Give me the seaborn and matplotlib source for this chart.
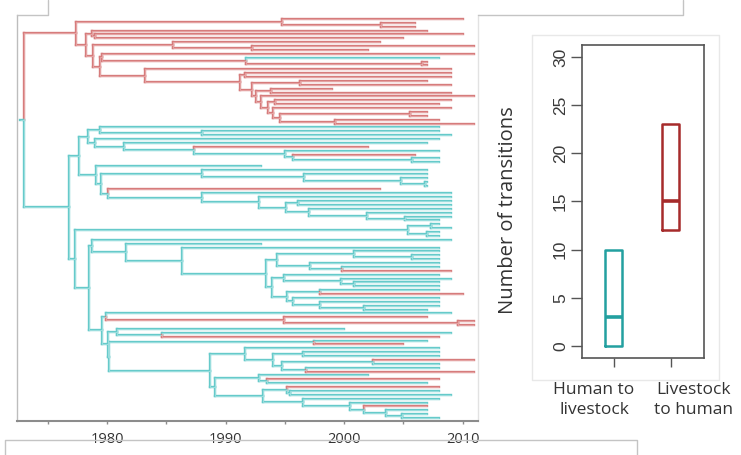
import numpy as np
import pandas as pd
import matplotlib
matplotlib.use("Agg")
import matplotlib.pyplot as plt
from matplotlib.collections import LineCollection
from matplotlib.lines import Line2D
import seaborn as sns

# ------------------------------------------------------------------ data
# Dated phylogeny. Every node label = state ('r' = livestock, 't' = human)
# followed by the node / tip date (year).
red_top = "(r2010,(r2006,r2006)r2003.1)r1994.8"
red_a = "(r2007,(r2010,r2005)r1979.0)r1978.7"
red_b = "(r2003,(r2011,r2002)r1992.2)r1985.6"
red_c = "(r2011,(t2008,(r2007,r2007)r2006.6)r1991.7)r1979.6"
red_lower = ("(r2009,((r2009,r2009)r1991.6,((r2007,r2009)r1996.3,((r1999,r2009)r1993.8,"
             "(r2011,((r2009,r2008)r1994.2,(r2009,((r2007,r2007)r2005.6,(r2008,r2011)r1999.2)"
             "r1994.6)r1994.0)r1993.6)r1993.0)r1992.6)r1992.2)r1991.2)r1983.2")
red_clade = ("(" + red_top + ",(" + red_a + ",(" + red_b + ",(" + red_c + "," + red_lower
             + ")r1979.4)r1978.8)r1978.2)r1977.4")

teal_1a = ("((t2008,(t2008,t2009)t1988.0)t1979.4,(t2008,(t2007,(r2002,(t2008,(r2006,"
           "(t2008,t2008)t2005.7)t1995.7)t1995.0)t1987.3)t1981.4)t1979.0)t1978.4")
teal_1b = ("(t1993,((t2007,(t2007,(t2007,(t2007,t2007)t2006.8)t2004.8)t1996.6)t1988.0,"
           "(r2003,(t2009,(t2009,((t2009,t2009)t1996.1,(t2009,(t2009,(t2009,t2008)t2005.1)"
           "t2001.9)t1997.0)t1995.1)t1992.8)t1988.0)t1980.1)t1979.5)t1979.1")
teal_2a = "((t2008,t2009)t2007.3,(t2008,t2008)t2007.0)t2005.4"
teal_n276 = "((t2008,(t2008,t2008)t2005.7)t2000.8,(t2008,(t2008,r2009)t1999.8)t1997.1)t1994.3"
teal_n272 = ("((t2008,(t2009,(t2008,t2008)t2000.8)t1999.7)t1994.9,((t2008,r2010)t1998.0,"
             "(t2008,(t2008,(t2008,t2007)t2001.7)t1998.0)t1995.7)t1995.2)t1993.9")
teal_n92 = "(t2009,(t1993,(t2008,(" + teal_n276 + "," + teal_n272 + ")t1993.4)t1986.3)t1981.6)t1978.7"
teal_n106 = "(t2009,(r2007,(r2011,r2011)r2009.6)r1994.9)t1979.9"
teal_n117 = "(t2000,(t2009,r2008)t1984.6)t1980.8"
teal_n315 = "(t2007,r2005)t1997.5"
teal_n244 = "(t2008,((t2008,t2008)t1996.5,((r2011,t2008)t2002.4,(t2008,r2011)t1996.8)t1994.8)t1994.0)t1991.6"
teal_n215 = ("((t2002,(r2008,t2007)t1993.5)t1992.8,((r2008,(t2008,t2009)t1995.4)t1995.2,"
             "(t2008,(t2007,(r2007,(t2007,(t2007,t2008)t2004.9)t2003.5)t2001.7)t2000.5)t1996.5)"
             "t1993.2)t1989.1")
teal_n102 = ("(" + teal_n106 + ",(" + teal_n117 + ",(" + teal_n315 + ",(" + teal_n244 + ","
             + teal_n215 + ")t1988.7)t1980.2)t1980.1)t1979.6")
teal_clade = ("((" + teal_1a + "," + teal_1b + ")t1977.6,(" + teal_2a + ",(" + teal_n92 + ","
              + teal_n102 + ")t1978.5)t1977.3)t1976.8")
tree_newick = "(" + red_clade + "," + teal_clade + ")t1973.0"
root_edge_years = 0.35

year_ticks = [1980, 1990, 2000, 2010]
year_minor_ticks = [1975, 1985, 1995, 2005]

categories = ["Human to\nlivestock", "Livestock\nto human"]
human_to_livestock = [0, 0, 3, 10, 10]
livestock_to_human = [12, 12, 15, 23, 23]
count_ticks = [0, 5, 10, 15, 20, 25, 30]

# ------------------------------------------------------------------ style
RED = "#D67C7C"
RED_IN = "#EDB9B9"
TEAL = "#66CACA"
TEAL_IN = "#B9E9E9"
BOX_TEAL = "#23A0A0"
BOX_RED = "#A62B2B"

sns.set_theme(style="white")
plt.rcParams["font.family"] = ["Open Sans", "DejaVu Sans"]


def parse_newick(s):
    pos = 0

    def node():
        nonlocal pos
        children = []
        if s[pos] == "(":
            pos += 1
            while True:
                children.append(node())
                if s[pos] == ",":
                    pos += 1
                    continue
                if s[pos] == ")":
                    pos += 1
                    break
        start = pos
        while pos < len(s) and s[pos] not in ",()":
            pos += 1
        lab = s[start:pos]
        return {"state": lab[0], "date": float(lab[1:]), "children": children}

    return node()


tree = parse_newick(tree_newick)

counter = [0]


def layout(n):
    if not n["children"]:
        counter[0] += 1
        n["y"] = counter[0]
    else:
        for c in n["children"]:
            layout(c)
        n["y"] = (n["children"][0]["y"] + n["children"][-1]["y"]) / 2.0


layout(tree)
n_tips = counter[0]

segs, states = [], []


def collect(n):
    for c in n["children"]:
        segs.append([(n["date"], c["y"]), (c["date"], c["y"])])
        states.append(c["state"])
        segs.append([(n["date"], n["y"]), (n["date"], c["y"])])
        states.append(c["state"])
        collect(c)


collect(tree)
segs.append([(tree["date"] - root_edge_years, tree["y"]), (tree["date"], tree["y"])])
states.append("t")

# ------------------------------------------------------------------ figure
W, H = 741, 455
fig = plt.figure(figsize=(W / 100, H / 100), dpi=100)


def fx(x):
    return x / W


def fy(y):
    return 1 - y / H


# tree panel
ax = fig.add_axes([fx(17), fy(421), (478 - 17) / W, (421 - 15) / H])
ax.set_facecolor("white")
outer = [RED if s == "r" else TEAL for s in states]
inner = [RED_IN if s == "r" else TEAL_IN for s in states]
ax.add_collection(LineCollection(segs, colors=outer, linewidths=1.7, capstyle="projecting"))
ax.add_collection(LineCollection(segs, colors=inner, linewidths=0.45, capstyle="butt"))
spacing = (418 - 19) / (n_tips - 1)
ax.set_xlim(1972.4, 2011.3)
ax.set_ylim(1 + (421 - 19) / spacing, 1 - (19 - 15) / spacing)
ax.set_xticks(year_ticks)
ax.set_xticks(year_minor_ticks, minor=True)
ax.set_xticklabels([str(t) for t in year_ticks])
ax.set_yticks([])
ax.tick_params(axis="x", which="both", direction="out", length=2.5, width=1,
               color="#8C8C8C", bottom=True)
ax.tick_params(axis="x", which="major", labelsize=10.5, labelcolor="#333333", pad=5.5)
for side, col, lw in [("left", "#BDBDBD", 1.0), ("bottom", "#8C8C8C", 1.5),
                      ("right", "#E2E2E2", 1.0)]:
    ax.spines[side].set_visible(True)
    ax.spines[side].set_color(col)
    ax.spines[side].set_linewidth(lw)
ax.spines["top"].set_visible(False)
ax.grid(False)

# boxplot panel
bx = fig.add_axes([fx(582), fy(358), (704 - 582) / W, (358 - 45) / H])
df = pd.DataFrame({
    "direction": [categories[0]] * len(human_to_livestock) + [categories[1]] * len(livestock_to_human),
    "transitions": human_to_livestock + livestock_to_human,
})
sns.boxplot(data=df, x="direction", y="transitions", hue="direction",
            palette=[BOX_TEAL, BOX_RED], fill=False, width=0.3, linewidth=1.8,
            showcaps=False, legend=False, ax=bx, medianprops={"linewidth": 2.6})
bx.set_xlim(-0.56, 1.58)
bx.set_ylim(-1.25, 31.25)
bx.set_xlabel("")
bx.set_ylabel("")
bx.set_xticks([0, 1])
bx.set_xticklabels(["", ""])
bx.set_yticks(count_ticks)
bx.set_yticklabels([str(t) for t in count_ticks], family=["Liberation Sans", "DejaVu Sans"],
                   fontsize=12.5, color="#3A3A3A")
for lab in bx.get_yticklabels():
    lab.set_rotation(90)
    lab.set_va("center")
    lab.set_ha("right")
bx.tick_params(axis="y", direction="out", length=8, width=1, color="#555555", pad=2, left=True)
bx.tick_params(axis="x", direction="out", length=6.5, width=1, color="#555555", bottom=True)
for sp in bx.spines.values():
    sp.set_visible(True)
    sp.set_color("#555555")
    sp.set_linewidth(1.2)
bx.grid(False)

fig.text(fx(508), fy(210), "Number of transitions", rotation=90, ha="center", va="center",
         fontsize=14.5, color="#333333")
fig.text(fx(594), fy(400), categories[0], ha="center", va="center", fontsize=12.5,
         color="#333333", linespacing=1.35)
fig.text(fx(693), fy(400), categories[1], ha="center", va="center", fontsize=12.5,
         color="#333333", linespacing=1.35)

# screenshot frame lines
frame_col = "#C4C4C4"
frames = [
    [(17, 15), (48, 15), (48, 0)],
    [(478, 15), (683, 15), (683, 0)],
    [(5, 455), (5, 440), (637, 440), (637, 455)],
]
for pts in frames:
    xs = [fx(p[0]) for p in pts]
    ys = [fy(p[1]) for p in pts]
    fig.add_artist(Line2D(xs, ys, transform=fig.transFigure, color=frame_col, lw=1.0))
xs = [fx(p) for p in (532, 719, 719, 532, 532)]
ys = [fy(p) for p in (35, 35, 380, 380, 35)]
fig.add_artist(Line2D(xs, ys, transform=fig.transFigure, color="#E8E8E8", lw=1.0))

fig.savefig("out.png", dpi=100, facecolor="white")
